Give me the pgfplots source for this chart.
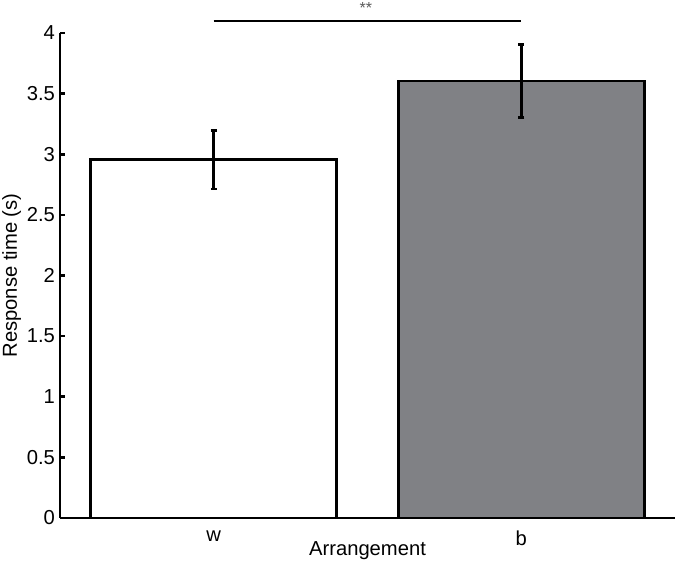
\documentclass[border=0pt]{standalone}
\usepackage{pgfplots}
\pgfplotsset{compat=1.18}
\usepackage{fontspec}
\setmainfont{Liberation Sans}
\definecolor{bargrey}{RGB}{128,129,133}
\begin{document}
\begin{tikzpicture}
\begin{axis}[
  scale only axis,
  width=307.5pt, height=242.5pt,
  xmin=0.5, xmax=2.5, ymin=0, ymax=4,
  axis x line*=bottom, axis y line*=left,
  axis line style={line width=1.3pt, -},
  xtick={1,2}, xticklabels={w,b},
  major x tick style={draw=none},
  ytick={0,0.5,1,1.5,2,2.5,3,3.5,4},
  yticklabels={0,0.5,1,1.5,2,2.5,3,3.5,4},
  tick align=inside,
  major tick length=2.5pt,
  major y tick style={line width=1.3pt, black},
  tick label style={font=\fontsize{10.1}{11}\selectfont},
  label style={font=\fontsize{10.1}{11}\selectfont},
  xlabel={Arrangement},
  ylabel={Response time (s)},
  xlabel style={yshift=9pt},
  ylabel style={yshift=-4pt},
  yticklabel style={xshift=1pt},
  xticklabel style={yshift=-0.5pt},
  clip=false,
  ybar, bar width=0.8, bar shift=0pt,
]
\addplot[fill=white, draw=black, line width=1.3pt,
  error bars/.cd, y dir=both, y explicit,
  error bar style={line width=1.3pt, black},
  error mark options={rotate=90, mark size=1.6pt, line width=1.3pt, black}]
  coordinates {(1,2.955) +- (0,0.242)};
\addplot[fill=bargrey, draw=black, line width=1.3pt,
  error bars/.cd, y dir=both, y explicit,
  error bar style={line width=1.3pt, black},
  error mark options={rotate=90, mark size=1.6pt, line width=1.3pt, black}]
  coordinates {(2,3.603) +- (0,0.30)};
\addplot[sharp plot, black, line width=0.8pt, mark=none, forget plot]
  coordinates {(1,4.1) (2,4.1)};
\node[font=\fontsize{8}{9}\selectfont, text=black!65, anchor=center] at (axis cs:1.495,4.205) {**};
\end{axis}
\pgfresetboundingbox
\path ([shift={(-30pt,-24pt)}]current axis.south west) rectangle ([shift={(0pt,16.5pt)}]current axis.north east);
\end{tikzpicture}
\end{document}
